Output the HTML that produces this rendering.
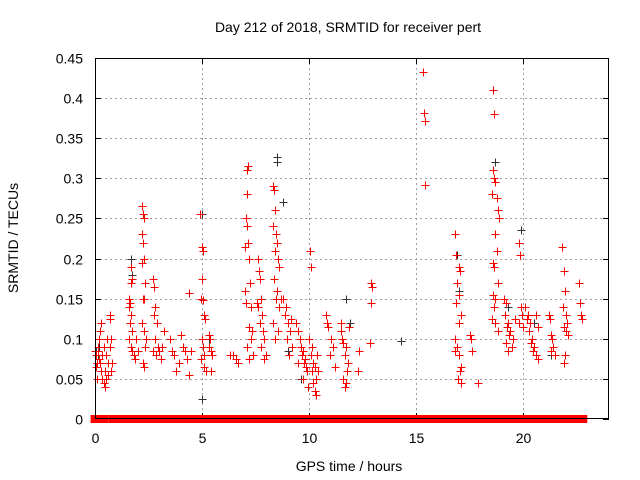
<!DOCTYPE html>
<html><head><meta charset="utf-8">
<style>
html,body{margin:0;padding:0;background:#fff;}
svg{display:block;font-family:"Liberation Sans",sans-serif;}
#marks path{shape-rendering:crispEdges;}
</style></head>
<body>
<svg id="chart" width="640" height="480" viewBox="0 0 640 480" xmlns="http://www.w3.org/2000/svg">
<rect x="0" y="0" width="640" height="480" fill="#fff"/>
<text x="348" y="32" font-size="14" text-anchor="middle" fill="#000">Day 212 of 2018, SRMTID for receiver pert</text>
<g id="grid"></g>
<g id="ticks"></g>
<g id="marks"></g>
<rect x="95.5" y="58.5" width="513" height="360" fill="none" stroke="#000" stroke-width="1"/>
<text x="349" y="471" font-size="14" text-anchor="middle">GPS time / hours</text>
<text transform="translate(18,238) rotate(-90)" font-size="14" text-anchor="middle">SRMTID / TECUs</text>
</svg>
<script>
const xTicks = [0, 5, 10, 15, 20];
const yTicks = [0, 0.05, 0.1, 0.15, 0.2, 0.25, 0.3, 0.35, 0.4, 0.45];
const yTickLabels = ["0","0.05","0.1","0.15","0.2","0.25","0.3","0.35","0.4","0.45"];
const zeroRanges = [[-0.02,0.19],[0.23,0.42],[0.8,1.78],[1.88,2.0],[2.08,2.39],[2.44,2.72],[2.82,2.96],[3.1,4.0],[4.08,5.5],[5.58,7.23],[7.42,7.93],[7.98,8.45],[8.5,9.0],[9.1,9.62],[9.7,10.1],[10.2,10.6],[10.7,11.3],[11.4,11.9],[12.0,12.6],[12.8,14.5],[14.6,15.3],[15.35,17.2],[17.3,17.9],[18.0,18.6],[18.7,19.0],[19.1,19.4],[19.5,20.2],[20.3,21.0],[21.1,22.8]];
const blackPoints = [[0.05,0.085],[0.15,0.08],[0.2,0.09],[1.7,0.2],[1.75,0.18],[2.8,0.14],[5.0,0.255],[5.0,0.175],[5.0,0.025],[5.3,0.1],[7.1,0.31],[8.5,0.327],[8.5,0.32],[8.8,0.27],[9.0,0.085],[9.6,0.05],[11.7,0.15],[11.9,0.12],[14.3,0.097],[16.9,0.205],[17.0,0.16],[18.7,0.32],[19.3,0.14],[19.9,0.235],[20.5,0.12],[21.3,0.08],[22.7,0.13]];
const redPoints = [
[0.0,0.085],[0.05,0.065],[0.05,0.08],[0.1,0.07],[0.1,0.05],[0.12,0.09],[0.15,0.085],[0.2,0.075],[0.2,0.1],[0.25,0.11],[0.3,0.12],[0.3,0.06],[0.35,0.05],[0.4,0.045],[0.45,0.04],[0.5,0.05],[0.4,0.09],[0.5,0.08],[0.55,0.1],[0.6,0.07],[0.45,0.06],[0.6,0.055],[0.35,0.08],[0.25,0.07],
[0.7,0.13],[0.72,0.125],[0.75,0.1],[0.7,0.09],[0.78,0.07],[0.75,0.06],
[1.6,0.15],[1.65,0.145],[1.6,0.14],[1.7,0.13],[1.65,0.12],[1.75,0.11],[1.6,0.1],[1.7,0.09],[1.75,0.085],[1.8,0.08],[1.85,0.075],[1.7,0.19],[1.75,0.175],[1.7,0.17],[1.9,0.1],[2.0,0.085],
[2.2,0.265],[2.25,0.255],[2.3,0.25],[2.2,0.23],[2.25,0.22],[2.3,0.2],[2.2,0.195],[2.35,0.17],[2.25,0.15],[2.3,0.15],[2.2,0.12],[2.3,0.11],[2.4,0.1],[2.35,0.09],[2.25,0.07],[2.3,0.065],
[2.7,0.175],[2.75,0.165],[2.8,0.14],[2.75,0.13],[2.9,0.12],[2.8,0.1],[2.95,0.09],[3.0,0.085],[2.85,0.08],[3.1,0.075],[3.15,0.09],[3.2,0.11],[2.7,0.085],
[3.5,0.1],[3.6,0.085],[3.7,0.08],[3.8,0.06],[3.9,0.07],[4.0,0.105],[4.1,0.09],[4.2,0.085],[4.4,0.055],[4.3,0.075],[4.4,0.157],[4.5,0.085],
[4.9,0.255],[5.0,0.215],[5.05,0.21],[5.0,0.175],[4.95,0.15],[5.05,0.148],[5.1,0.13],[5.15,0.125],[5.0,0.1],[5.05,0.09],[5.1,0.08],[4.95,0.075],[5.1,0.065],[5.2,0.06],[5.3,0.105],[5.35,0.1],[5.3,0.09],[5.4,0.085],[5.45,0.08],[5.4,0.06],
[6.3,0.08],[6.45,0.08],[6.6,0.075],[6.7,0.07],
[7.0,0.16],[7.05,0.145],[7.1,0.31],[7.15,0.315],[7.1,0.28],[7.05,0.25],[7.1,0.24],[7.15,0.22],[7.0,0.215],[7.2,0.2],[7.25,0.17],[7.3,0.14],[7.2,0.115],[7.35,0.11],[7.3,0.1],[7.1,0.09],[7.4,0.08],[7.2,0.075],
[7.6,0.2],[7.65,0.185],[7.7,0.175],[7.75,0.15],[7.6,0.14],[7.8,0.13],[7.7,0.12],[7.85,0.11],[7.9,0.1],[7.75,0.09],[8.0,0.08],[7.9,0.075],[7.55,0.145],
[8.3,0.29],[8.35,0.285],[8.4,0.26],[8.3,0.24],[8.45,0.23],[8.5,0.22],[8.4,0.21],[8.55,0.2],[8.6,0.19],[8.35,0.175],[8.5,0.16],[8.45,0.15],[8.6,0.14],[8.3,0.12],[8.55,0.11],[8.4,0.1],
[8.7,0.15],[8.8,0.15],[8.9,0.14],[8.85,0.13],[9.0,0.12],[9.1,0.11],[8.95,0.1],[9.2,0.09],[9.05,0.08],[9.15,0.125],
[9.4,0.12],[9.5,0.11],[9.55,0.1],[9.6,0.09],[9.7,0.085],[9.65,0.08],[9.8,0.075],[9.75,0.07],[9.85,0.065],[9.9,0.06],[9.7,0.05],[9.95,0.04],[9.5,0.07],
[10.05,0.21],[10.1,0.19],[10.0,0.1],[10.15,0.09],[10.1,0.08],[10.2,0.07],[10.25,0.065],[10.15,0.06],[10.3,0.05],[10.2,0.045],[10.25,0.035],[10.3,0.03],[10.4,0.06],[10.35,0.08],
[10.8,0.13],[10.85,0.12],[10.9,0.115],[11.0,0.1],[11.1,0.09],[10.95,0.08],[11.2,0.065],
[11.5,0.11],[11.55,0.1],[11.6,0.095],[11.7,0.09],[11.65,0.08],[11.8,0.07],[11.75,0.06],[11.6,0.05],[11.7,0.045],[11.65,0.04],[11.5,0.12],[11.85,0.115],
[12.3,0.06],[12.35,0.085],[12.9,0.17],[12.95,0.165],[12.9,0.145],[12.85,0.095],
[15.3,0.433],[15.35,0.382],[15.4,0.372],[15.4,0.292],
[16.8,0.23],[16.85,0.205],[17.0,0.19],[17.05,0.185],[16.9,0.17],[17.0,0.155],[16.85,0.145],[17.1,0.13],[17.0,0.12],[16.8,0.1],[16.9,0.09],[16.8,0.085],[17.0,0.08],[17.1,0.065],[17.05,0.06],[16.95,0.05],[17.1,0.045],
[17.5,0.105],[17.55,0.1],[17.6,0.085],[17.9,0.045],
[18.6,0.41],[18.65,0.38],[18.6,0.31],[18.65,0.3],[18.7,0.295],[18.55,0.28],[18.75,0.275],[18.8,0.26],[18.85,0.25],[18.7,0.23],[18.75,0.21],[18.6,0.195],[18.65,0.19],[18.8,0.17],[18.6,0.155],[18.7,0.15],[18.65,0.14],[18.55,0.125],[18.7,0.12],[18.8,0.11],
[19.1,0.15],[19.2,0.145],[19.15,0.13],[19.3,0.12],[19.25,0.115],[19.4,0.11],[19.35,0.105],[19.5,0.1],[19.2,0.095],[19.45,0.09],[19.3,0.085],[19.6,0.125],
[19.8,0.22],[19.85,0.205],[19.9,0.14],[19.95,0.13],[19.8,0.12],[20.0,0.115],
[20.1,0.14],[20.2,0.13],[20.15,0.125],[20.3,0.12],[20.25,0.11],[20.4,0.1],[20.35,0.095],[20.5,0.09],[20.45,0.085],[20.6,0.08],[20.7,0.075],[20.6,0.13],[20.7,0.115],
[21.2,0.13],[21.25,0.125],[21.3,0.105],[21.35,0.1],[21.4,0.09],[21.3,0.085],[21.5,0.08],
[21.8,0.215],[21.9,0.185],[21.95,0.16],[21.85,0.14],[22.0,0.13],[22.05,0.12],[21.9,0.115],[22.0,0.11],[22.1,0.105],[21.95,0.08],[21.9,0.07],
[22.6,0.17],[22.65,0.145],[22.7,0.13],[22.75,0.125]
];

const X0 = 95, X1 = 609, Y0 = 419, Y1 = 58;
const xMax = 24, yMax = 0.45;
function sx(h){ return X0 + (X1 - X0) * h / xMax; }
function sy(v){ return Y0 - (Y0 - Y1) * v / yMax; }
const NS = "http://www.w3.org/2000/svg";
function mk(tag, attrs, parent){ const e = document.createElementNS(NS, tag); for (const k in attrs) e.setAttribute(k, attrs[k]); parent.appendChild(e); return e; }

const grid = document.getElementById('grid');
const ticks = document.getElementById('ticks');
const marks = document.getElementById('marks');

xTicks.forEach(function(t){
  const x = Math.round(sx(t)) + 0.5;
  if (t > 0) {
    const g = mk('line', {x1:x, y1:Y1, x2:x, y2:Y0, stroke:'#a0a0a0', 'stroke-dasharray':'2,3', 'stroke-width':1}, grid);
    
    
  }
  const tk = mk('path', {d:'M'+x+' '+Y0+'v-6M'+x+' '+Y1+'v6', stroke:'#000', 'stroke-width':1}, ticks);
  
  
  const lb = mk('text', {x:x, y:443, 'font-size':14, 'text-anchor':'middle'}, ticks);
  lb.textContent = String(t);
  
  
});
yTicks.forEach(function(t, i){
  const y = Math.round(sy(t)) + 0.5;
  if (t > 0 && t < yMax) {
    const g = mk('line', {x1:X0, y1:y, x2:X1, y2:y, stroke:'#a0a0a0', 'stroke-dasharray':'2,3', 'stroke-width':1}, grid);
    
    
  }
  const tk = mk('path', {d:'M'+X0+' '+y+'h6M'+X1+' '+y+'h-6', stroke:'#000', 'stroke-width':1}, ticks);
  
  
  const lb = mk('text', {x:83, y:y+5, 'font-size':14, 'text-anchor':'end'}, ticks);
  lb.textContent = yTickLabels[i];
  
  
});

function plus(h, v, color){
  const x = Math.round(sx(h)) + 0.5, y = Math.round(sy(v)) + 0.5;
  const p = mk('path', {d:'M'+(x-4)+' '+y+'h8M'+x+' '+(y-4)+'v8', stroke:color, 'stroke-width':1, fill:'none'}, marks);
  return p;
}
blackPoints.forEach(function(p){
  const m = plus(p[0], p[1], '#333333');
  
  
});
zeroRanges.forEach(function(r){
  const a = sx(r[0]) - 4, b = sx(r[1]) + 4;
  const band = mk('rect', {x:a, y:sy(0)-4, width:b-a, height:8, fill:'#ff0000'}, marks);
  
  
});
redPoints.forEach(function(p){
  const m = plus(p[0], p[1], '#ff0000');
  
  
});
</script>
</body></html>
